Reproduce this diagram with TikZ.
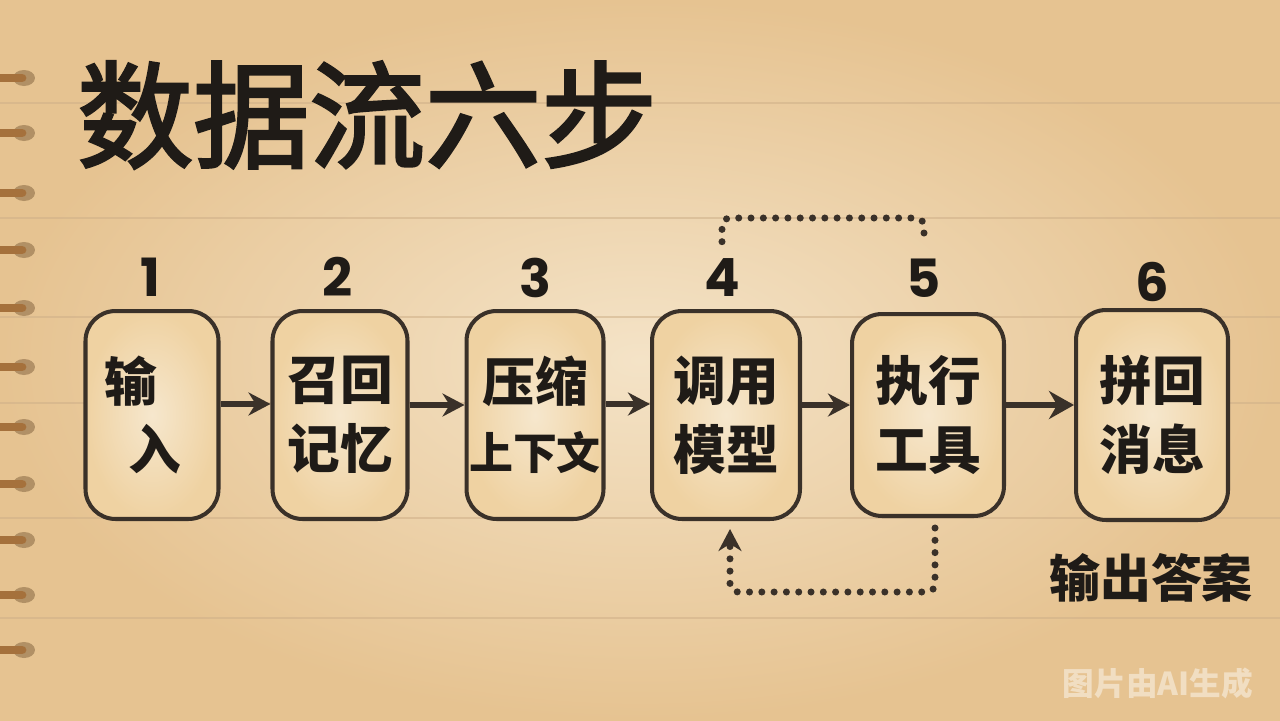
\documentclass[tikz,border=0pt]{standalone}
\usepackage{fontspec}
\usepackage{xcolor}
\usetikzlibrary{arrows.meta, calc, positioning}
\newfontfamily\cjk{Noto Sans CJK SC}
\newfontfamily\cjktitle{Noto Sans CJK SC}[FakeBold=2.5]
\newfontfamily\numfont{Poppins}
\definecolor{paper}{HTML}{F4E3C7}
\definecolor{paperedge}{HTML}{E6C391}
\definecolor{ink}{HTML}{1F1B17}
\definecolor{pencil}{HTML}{3A3129}
\definecolor{boxlight}{HTML}{F6E7CD}
\definecolor{boxedge}{HTML}{EFD2A2}
\definecolor{ruled}{HTML}{CFB089}
\definecolor{ring}{HTML}{A5713C}

\begin{document}
\begin{tikzpicture}[ x = 0.02cm, y = -0.02cm
                     , >={Stealth[length=0.44cm, width=0.46cm]}
                     , box/.style = { rectangle
                                    , rounded corners = 0.6cm
                                    , draw = pencil
                                    , line width = 2.3pt
                                    , inner color = boxlight
                                    , outer color = boxedge
                                    , text = ink
                                    , align = center
                                    , minimum height = 4.16cm
                                    , inner sep = 0pt
                                    , font = \cjk\bfseries\fontsize{30}{39}\selectfont }
                     , num/.style = { text = ink
                                    , inner sep = 0pt
                                    , font = \numfont\bfseries\fontsize{30}{30}\selectfont }
                     , flow/.style = {->, draw = pencil, line width = 3pt}
                     , loopline/.style = { draw = pencil
                                         , line width = 4pt
                                         , line cap = round
                                         , dash pattern = on 0pt off 7pt
                                         , rounded corners = 0.16cm }
                     ]

  \useasboundingbox (0,0) rectangle (1280,720);
  \shade[inner color = paper, outer color = paperedge] (0,0) rectangle (1280,720);

  \foreach \ry in {103, 218, 317, 403, 518, 618}
    \draw[ruled, line width = 0.8pt, opacity = 0.55] (0,\ry) -- (1280,\ry);

  \foreach \ry in {78, 133, 193, 250, 308, 367, 427, 484, 540, 595, 650} {
    \fill[ring!60!black, opacity = 0.4] (24,\ry) ellipse (0.22cm and 0.16cm);
    \draw[ring, line width = 5pt, line cap = round] (0,\ry) -- (22,\ry);
  }

  \node (title) [ anchor = west, text = ink, inner sep = 0pt
                , font = \cjktitle\fontsize{66}{66}\selectfont ]
    at (77,115) {数据流六步};

  \node (b1) [box, minimum width = 2.66cm] at (152,415)
    {\hspace*{-0.4em}输\hspace*{0.4em}\\\hspace*{0.1em}入};
  \node (b2) [box, minimum width = 2.70cm] at (340,415) {召回\\记忆};
  \node (b3) [box, minimum width = 2.74cm] at (535,415)
    {压缩\\{\fontsize{25}{39}\selectfont 上下文}};
  \node (b4) [box, minimum width = 2.96cm] at (726,415) {调用\\模型};
  \node (b5) [box, minimum width = 3.04cm, minimum height = 4.04cm] at (928,415) {执行\\工具};
  \node (b6) [box, minimum width = 3.04cm, minimum height = 4.2cm] at (1152,415) {拼回\\消息};

  \node (n1) [num] at (150,277) {1};
  \node (n2) [num] at (338,277) {2};
  \node (n3) [num] at (535,278) {3};
  \node (n4) [num] at (722,278) {4};
  \node (n5) [num] at (924,278) {5};
  \node (n6) [num] at (1152,282) {6};

  \draw[flow] ([yshift=0.22cm]b1.east) -- ([yshift=0.22cm]b2.west);
  \draw[flow] ([yshift=0.2cm]b2.east) -- ([yshift=0.2cm]b3.west);
  \draw[flow] ([yshift=0.22cm]b3.east) -- ([yshift=0.22cm]b4.west);
  \draw[flow] ([yshift=0.2cm]b4.east) -- ([yshift=0.2cm]b5.west);
  \draw[flow, -{Stealth[length=0.5cm, width=0.56cm]}]
    ([yshift=0.2cm]b5.east) -- ([yshift=0.2cm]b6.west);

  \coordinate (looptop) at (822,218);
  \coordinate (loopbot) at (832,592);
  \draw[loopline] ([yshift=0.34cm]n4.north) |- (looptop) -| ([yshift=0.34cm]n5.north);
  \draw[loopline, ->] ($(b5.south)+(7,10)$) |- (loopbot) -| ($(b4.south)+(4,8)$);

  \node (answer) [ text = ink, inner sep = 0pt
                 , font = \cjk\bfseries\fontsize{29}{29}\selectfont ]
    at (1151,578) {输出答案};

  \node (mark) [ text = white, opacity = 0.45, inner sep = 0pt
               , font = \cjk\bfseries\fontsize{18}{18}\selectfont ]
    at (1158,683) {图片由AI生成};

\end{tikzpicture}
\end{document}
